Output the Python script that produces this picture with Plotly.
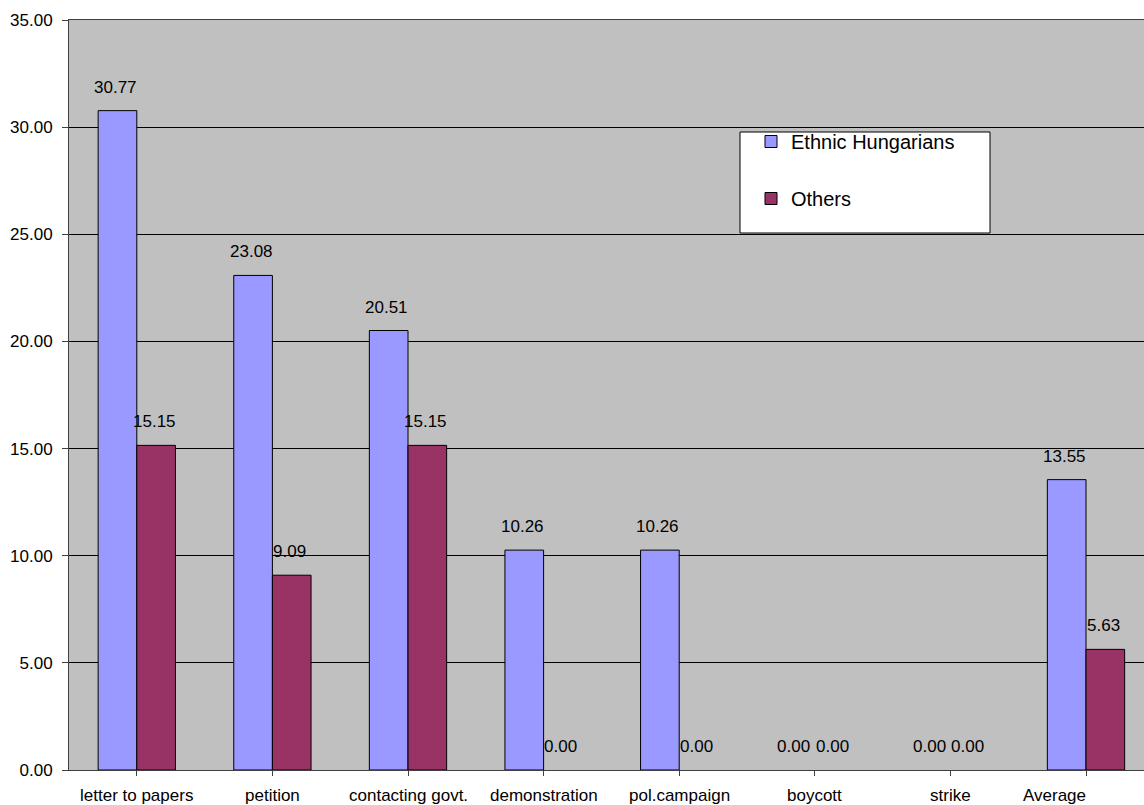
import plotly.graph_objects as go

categories = ["letter to papers", "petition", "contacting govt.", "demonstration",
              "pol.campaign", "boycott", "strike", "Average"]
ethnic_hungarians = [30.77, 23.08, 20.51, 10.26, 10.26, 0.00, 0.00, 13.55]
others = [15.15, 9.09, 15.15, 0.00, 0.00, 0.00, 0.00, 5.63]
y_ticks = [0, 5, 10, 15, 20, 25, 30, 35]

BLUE = "#9999FF"
RED = "#993366"
FONT = "Liberation Sans, Arial, sans-serif"
FS = 17

xi = list(range(len(categories)))

fig = go.Figure()
fig.add_trace(go.Bar(x=xi, y=ethnic_hungarians, name="Ethnic Hungarians",
                     marker=dict(color=BLUE, line=dict(color="black",
                                 width=[1 if v > 0 else 0 for v in ethnic_hungarians])),
                     legendgroup="a"))
fig.add_trace(go.Bar(x=xi, y=others, name="Others",
                     marker=dict(color=RED, line=dict(color="black",
                                 width=[1 if v > 0 else 0 for v in others])),
                     legendgroup="b"))

bw = 0.285
annotations = []
for i, (a, b) in enumerate(zip(ethnic_hungarians, others)):
    annotations.append(dict(x=i - bw / 2 - 0.015, y=a, xref="x", yref="y", text=f"{a:.2f}",
                            showarrow=False, yanchor="bottom", yshift=12,
                            font=dict(family=FONT, size=FS, color="black")))
    annotations.append(dict(x=i + bw / 2 - 0.015, y=b, xref="x", yref="y", text=f"{b:.2f}",
                            showarrow=False, yanchor="bottom", yshift=12,
                            font=dict(family=FONT, size=FS, color="black")))
for i, c in enumerate(categories):
    annotations.append(dict(x=i, y=0, xref="x", yref="y", text=c, showarrow=False,
                            yanchor="top", yshift=-14,
                            xshift=-32 if i == len(categories) - 1 else 0,
                            font=dict(family=FONT, size=FS, color="black")))

fig.update_layout(
    width=1144, height=805,
    margin=dict(l=69, r=0, t=20, b=35),
    paper_bgcolor="white", plot_bgcolor="#C0C0C0",
    barmode="group", bargap=0.43, bargroupgap=0,
    showlegend=True,
    legend=dict(x=(751 - 69) / 1075, y=(770 - 122) / 750, xanchor="left", yanchor="top",
                bgcolor="rgba(0,0,0,0)", borderwidth=0,
                font=dict(family=FONT, size=20, color="black"),
                tracegroupgap=28, traceorder="grouped"),
    annotations=annotations,
    shapes=[dict(type="rect", xref="paper", yref="paper",
                 x0=(740 - 69) / 1075, x1=(990 - 69) / 1075,
                 y0=(770 - 233) / 750, y1=(770 - 132) / 750,
                 line=dict(color="black", width=1), fillcolor="white", layer="above")],
    xaxis=dict(range=[-0.5, -0.5 + 1075 / 135.6], tickvals=xi, ticktext=[""] * len(xi),
               showgrid=False, ticks="outside", tickson="boundaries", ticklen=5,
               tickcolor="#404040", showline=True, linecolor="#404040", linewidth=1,
               mirror=True, zeroline=False),
    yaxis=dict(range=[0, 35], tickvals=y_ticks, tickformat=".2f",
               showgrid=True, gridcolor="black", gridwidth=1,
               ticks="outside", ticklen=6, tickcolor="#404040", ticklabelstandoff=6,
               showline=True, linecolor="#404040", linewidth=1, mirror=True,
               zeroline=False, tickfont=dict(family=FONT, size=FS, color="black")),
)

fig.write_html("out.html")
